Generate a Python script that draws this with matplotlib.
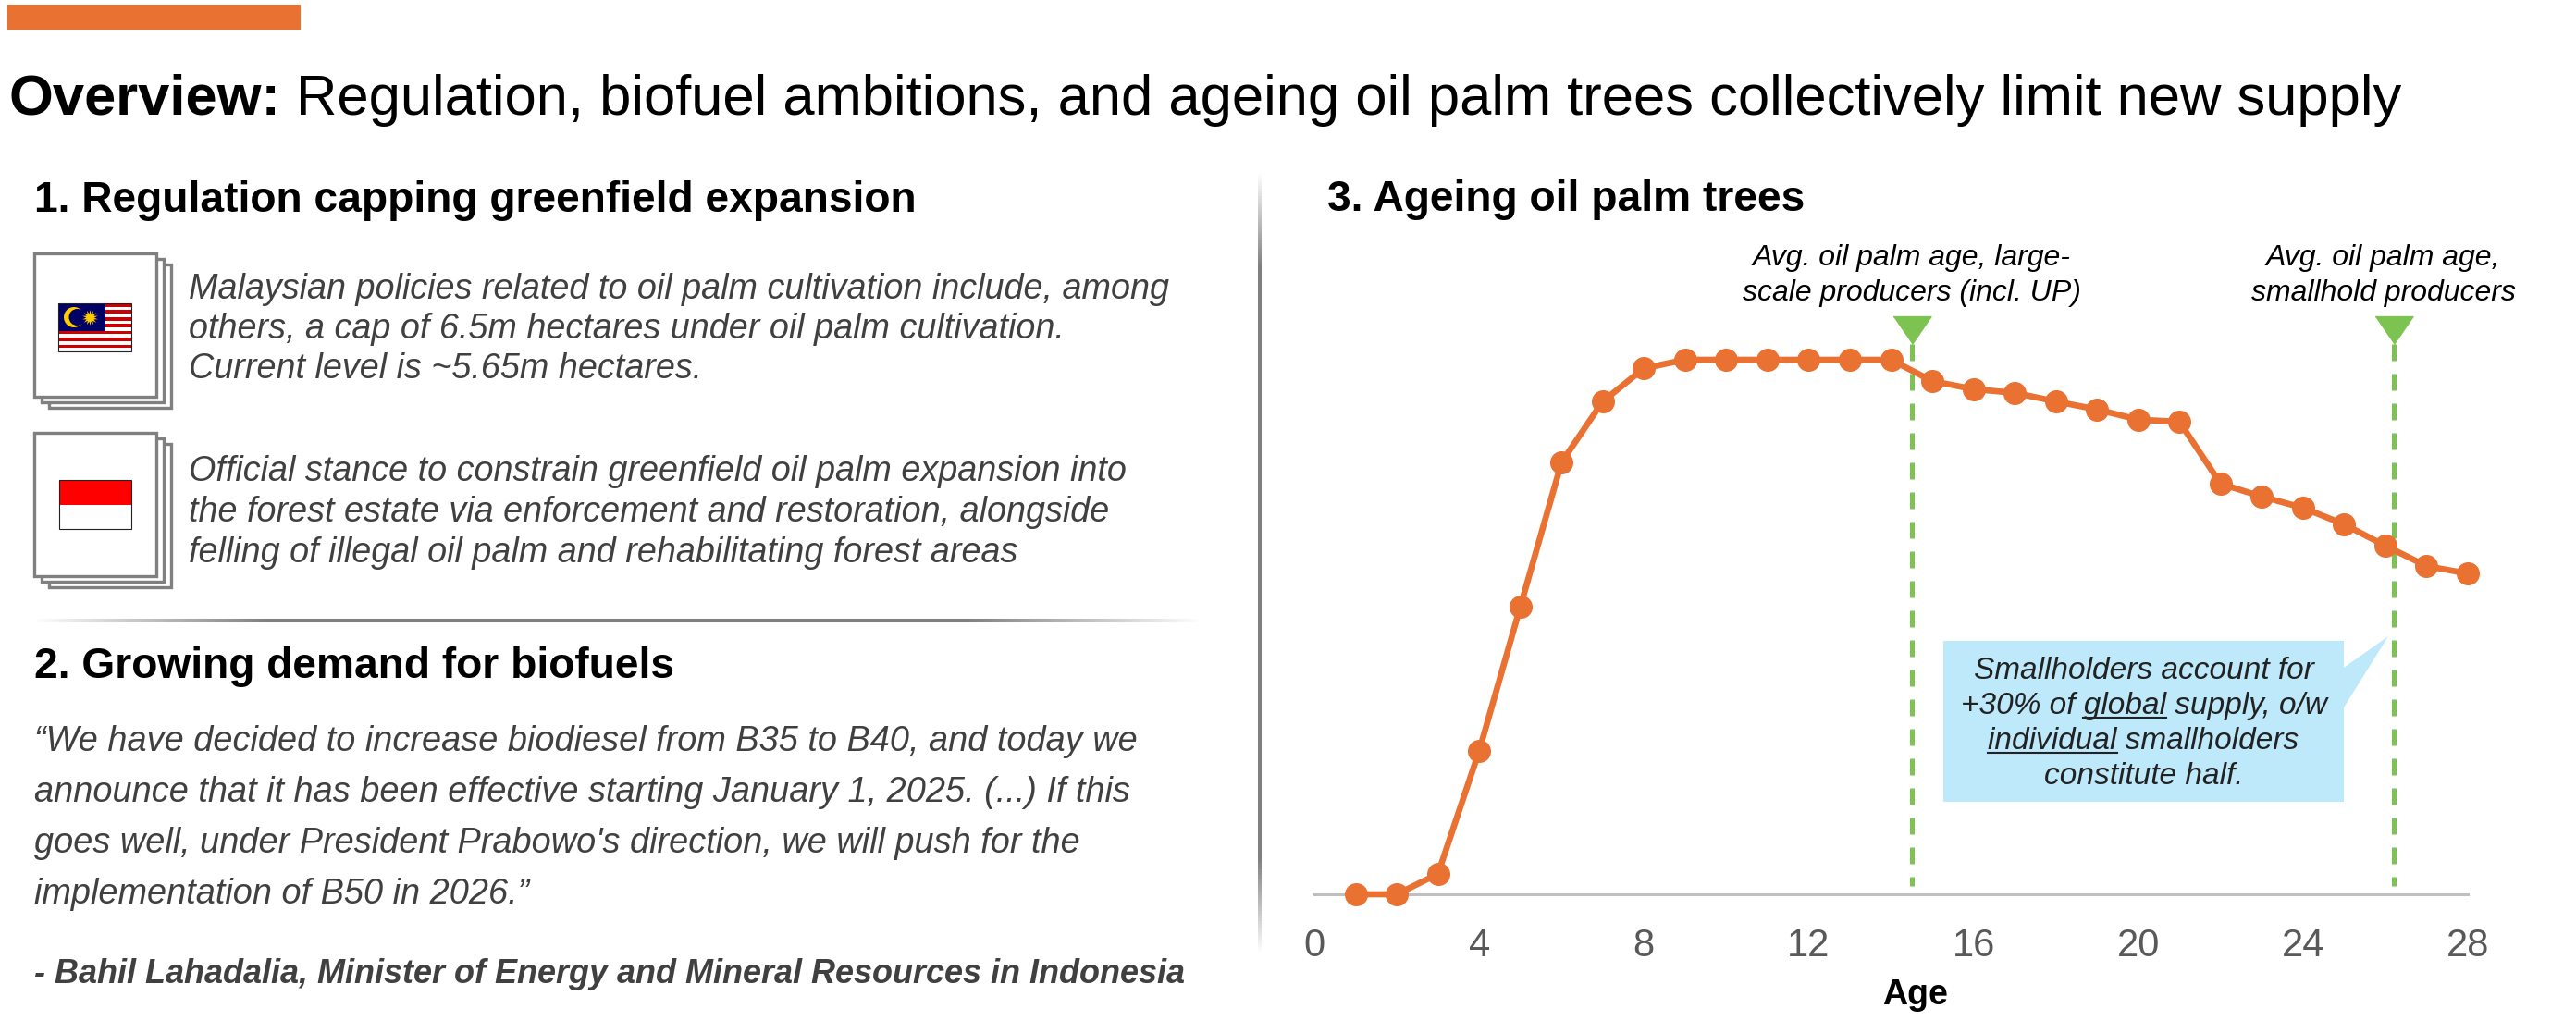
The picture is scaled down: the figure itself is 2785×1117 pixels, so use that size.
import matplotlib
matplotlib.use("Agg")
import matplotlib.pyplot as plt
import matplotlib.transforms as mtransforms
import numpy as np
from matplotlib.patches import Rectangle, Polygon, Circle
from matplotlib.collections import LineCollection

plt.rcParams['font.family'] = ['Liberation Sans', 'DejaVu Sans']

# ---- data ----
ages = list(range(1, 29))
yield_index = [0, 0, 3.8, 26.8, 53.8, 80.8, 92.2, 98.4, 100, 100,
               100, 100, 100, 100, 96.0, 94.5, 93.8, 92.2, 90.7, 88.8,
               88.4, 76.8, 74.4, 72.3, 69.2, 65.2, 61.4, 60.0]
avg_age_large = 14.5
avg_age_small = 26.2
x_ticks = [0, 4, 8, 12, 16, 20, 24, 28]

title_bold = "Overview:"
title_rest = "Regulation, biofuel ambitions, and ageing oil palm trees collectively limit new supply"
head1 = "1. Regulation capping greenfield expansion"
head2 = "2. Growing demand for biofuels"
head3 = "3. Ageing oil palm trees"
my_lines = ["Malaysian policies related to oil palm cultivation include, among",
            "others, a cap of 6.5m hectares under oil palm cultivation.",
            "Current level is ~5.65m hectares."]
id_lines = ["Official stance to constrain greenfield oil palm expansion into",
            "the forest estate via enforcement and restoration, alongside",
            "felling of illegal oil palm and rehabilitating forest areas"]
quote_lines = ["\u201cWe have decided to increase biodiesel from B35 to B40, and today we",
               "announce that it has been effective starting January 1, 2025. (...) If this",
               "goes well, under President Prabowo's direction, we will push for the",
               "implementation of B50 in 2026.\u201d"]
quote_by = "- Bahil Lahadalia, Minister of Energy and Mineral Resources in Indonesia"
note_large = ["Avg. oil palm age, large-", "scale producers (incl. UP)"]
note_small = ["Avg. oil palm age,", "smallhold producers"]
callout_lines = [[("Smallholders account for", False)],
                 [("+30% of ", False), ("global", True), (" supply, o/w", False)],
                 [("individual", True), (" smallholders", False)],
                 [("constitute half.", False)]]

orange = '#E97132'
green = '#7DC352'
grey_txt = '#404040'

W, H = 2785, 1117
fig = plt.figure(figsize=(W / 100, H / 100), dpi=100)
bg = fig.add_axes([0, 0, 1, 1])
bg.set_xlim(0, W)
bg.set_ylim(H, 0)
bg.axis('off')
r = fig.canvas.get_renderer()


def text_w(s, **kw):
    t = bg.text(0, 0, s, **kw)
    w = t.get_window_extent(r).width
    t.remove()
    return w


def grad_line(x0, y0, x1, y1, ramp, lw, n=300):
    t = np.linspace(0, 1, n + 1)
    xs = x0 + (x1 - x0) * t
    ys = y0 + (y1 - y0) * t
    segs = [[(xs[i], ys[i]), (xs[i + 1], ys[i + 1])] for i in range(n)]
    tm = (t[:-1] + t[1:]) / 2
    a = np.clip(np.minimum(tm, 1 - tm) / ramp, 0, 1)
    cols = [(0.5, 0.5, 0.5, v) for v in a]
    bg.add_collection(LineCollection(segs, colors=cols, linewidths=lw))


# top bar + title
bg.add_patch(Rectangle((8, 5), 317, 27, color=orange, lw=0))
bg.text(9, 124, title_bold, fontsize=44.3, fontweight='bold', va='baseline')
wb = text_w(title_bold + " x", fontsize=44.3, fontweight='bold') - text_w("x", fontsize=44.3, fontweight='bold')
bg.text(9 + wb, 124, title_rest, fontsize=44.3, va='baseline')

# section headers
bg.text(37, 229, head1, fontsize=33.2, fontweight='bold', va='baseline')
bg.text(37, 733, head2, fontsize=33.2, fontweight='bold', va='baseline')
bg.text(1435, 228, head3, fontsize=33.2, fontweight='bold', va='baseline')

# stacked paper icons
for top in (274, 468):
    for k in (2, 1, 0):
        bg.add_patch(Rectangle((37 + 8 * k, top + 6 * k), 132, 155, facecolor='white',
                               edgecolor='#808080', lw=2.4))

# Malaysia flag
fx, fy, fw, fh = 63, 328, 79, 52
for i in range(14):
    bg.add_patch(Rectangle((fx, fy + i * fh / 14), fw, fh / 14,
                           color='#CC0001' if i % 2 == 0 else 'white', lw=0))
bg.add_patch(Rectangle((fx, fy), fw * 0.65, fh * 8 / 14, color='#010066', lw=0))
bg.add_patch(Circle((fx + 17, fy + 15), 11, color='#FFCC00', lw=0))
bg.add_patch(Circle((fx + 20.5, fy + 15), 9, color='#010066', lw=0))
bg.scatter([fx + 34], [fy + 15], marker=(14, 1, 0), s=150, color='#FFCC00', lw=0, zorder=3)
bg.add_patch(Rectangle((fx, fy), fw, fh, fill=False, edgecolor='#222222', lw=0.8))

# Indonesia flag
gx, gy, gw, gh = 64, 519, 78, 53
bg.add_patch(Rectangle((gx, gy), gw, gh / 2, color='#FF0000', lw=0))
bg.add_patch(Rectangle((gx, gy), gw, gh, fill=False, edgecolor='#222222', lw=0.8))

for i, s in enumerate(my_lines):
    bg.text(204, 323 + 43 * i, s, fontsize=27.2, style='italic', color=grey_txt, va='baseline')
for i, s in enumerate(id_lines):
    bg.text(204, 520 + 44 * i, s, fontsize=27.2, style='italic', color=grey_txt, va='baseline')

# dividers
grad_line(36, 671, 1299, 671, 0.2, 2.9)
grad_line(1362, 187, 1362, 1030, 0.12, 2.9)

# quote
for i, s in enumerate(quote_lines):
    bg.text(37, 812 + 55 * i, s, fontsize=27.3, style='italic', color=grey_txt, va='baseline')
bg.text(37, 1063, quote_by, fontsize=25.9, style='italic', fontweight='bold',
        color=grey_txt, va='baseline')

# callout box
bx0, bx1, by0, by1 = 2101, 2534, 693, 867
bg.add_patch(Polygon([(bx0, by0), (bx1, by0), (bx1, 722), (2582, 688), (bx1, 765),
                      (bx1, by1), (bx0, by1)], closed=True, color='#BDE9FB', lw=0))
ckw = dict(fontsize=24, style='italic', color='#222222')
cx = (bx0 + bx1) / 2
for i, parts in enumerate(callout_lines):
    yb = 734 + 38 * i
    full = "".join(p for p, _ in parts)
    wf = text_w(full, **ckw)
    left = cx - wf / 2
    bg.text(cx, yb, full, ha='center', va='baseline', **ckw)
    pre = ""
    for p, u in parts:
        if u:
            xe = left + text_w(pre + p, **ckw)
            xs = xe - text_w(p, **ckw)
            bg.plot([xs, xe], [yb + 4, yb + 4], color='#222222', lw=1.5)
        pre += p

# ---- chart ----
ax = fig.add_axes([1421 / W, (H - 967) / H, 1247 / W, 667 / H])
ax.patch.set_alpha(0)
trans = mtransforms.blended_transform_factory(ax.transData, bg.transData)

for age in (avg_age_large, avg_age_small):
    ax.plot([age, age], [372, 958], transform=trans, color=green, lw=3.6,
            ls=(0, (3.6, 2.8)), clip_on=False, zorder=2)
    ax.plot([age], [357], transform=trans, color=green, ms=29.5, lw=0,
            marker=[(-1, 0.73), (1, 0.73), (0, -0.73)], clip_on=False, zorder=2)

ax.plot(ages, yield_index, color=orange, lw=4.8, marker='o', ms=17,
        clip_on=False, zorder=3)

for i, s in enumerate(note_large):
    ax.text(avg_age_large, 287 + 38 * i, s, transform=trans, ha='center', va='baseline',
            fontsize=23, style='italic')
for i, s in enumerate(note_small):
    ax.text(avg_age_small - 0.25, 287 + 38 * i, s, transform=trans, ha='center',
            va='baseline', fontsize=23, style='italic')

ax.set_xlim(0, 28)
ax.set_ylim(0, 667 / 578 * 100)
for sp in ('top', 'left', 'right'):
    ax.spines[sp].set_visible(False)
ax.spines['bottom'].set_color('#BFBFBF')
ax.spines['bottom'].set_linewidth(2.2)
ax.set_yticks([])
ax.set_xticks(x_ticks)
ax.set_xticklabels([str(v) for v in x_ticks])
ax.tick_params(axis='x', length=0, pad=26, labelsize=30, labelcolor='#595959')
bg.text(2070, 1086, 'Age', fontsize=27, fontweight='bold', ha='center', va='baseline')

fig.savefig('out.png', dpi=100)
